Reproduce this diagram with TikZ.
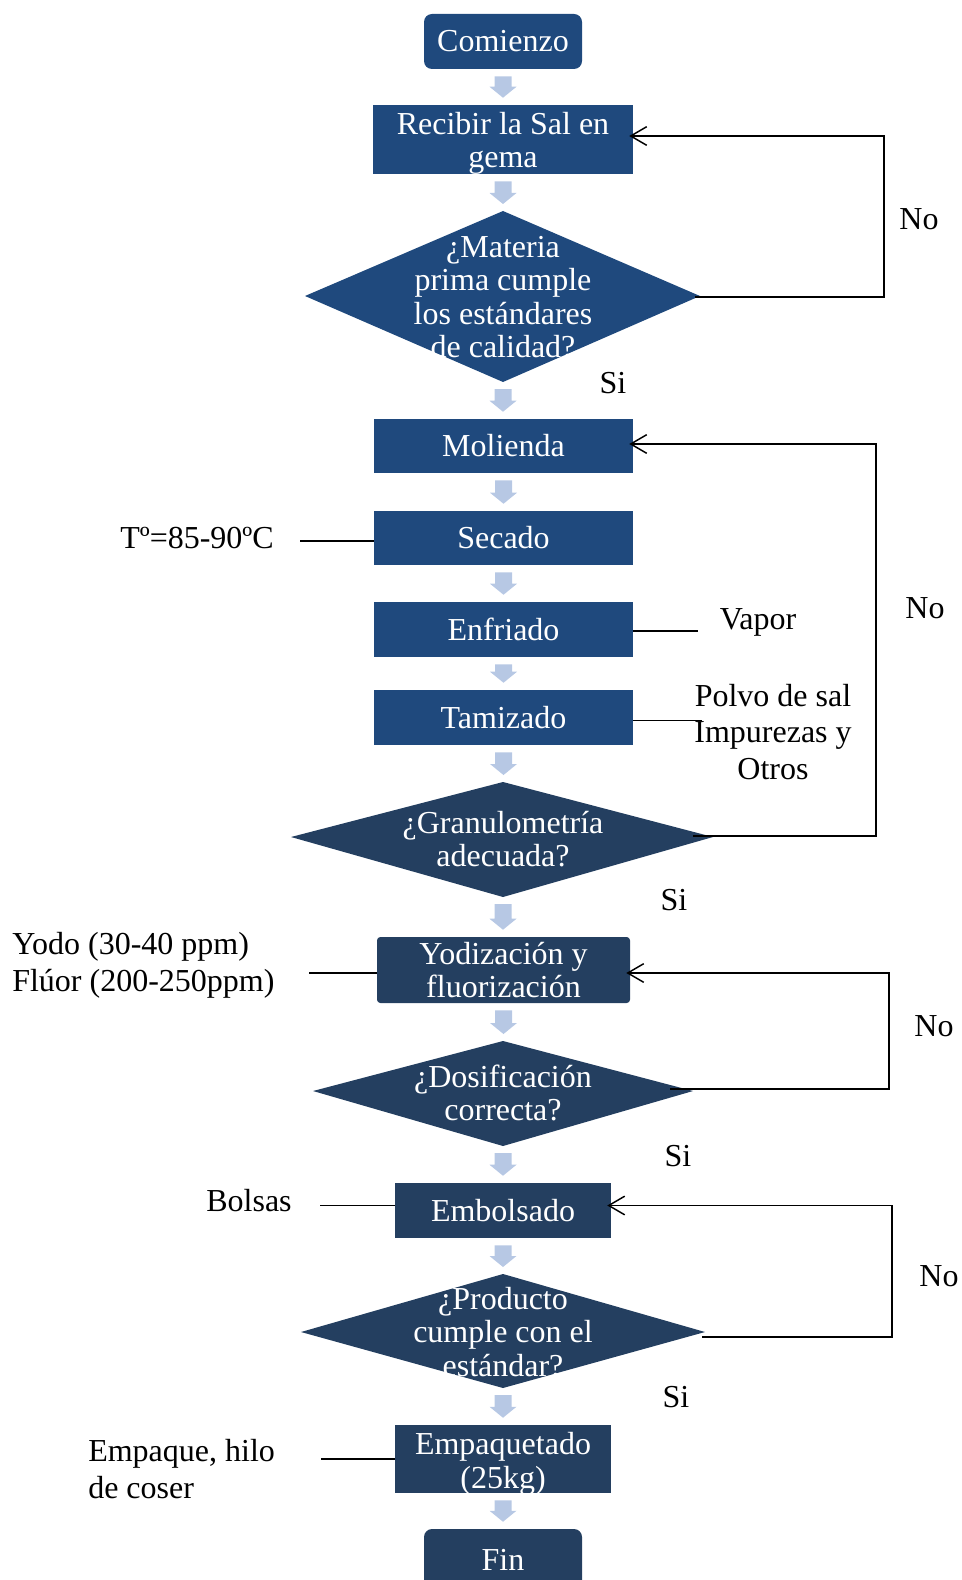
\documentclass[tikz,border=0pt]{standalone}
\usepackage{fontspec}
\setmainfont{Liberation Serif}
\usetikzlibrary{arrows.meta,calc}
\definecolor{bluA}{RGB}{31,73,125}
\definecolor{bluB}{RGB}{36,63,96}
\definecolor{arrowc}{RGB}{183,200,228}
\newcommand\flowarrow[2]{%
  \fill[arrowc] let \p1=($(#1)+(0,7)$), \p2=($(#2)+(0,-7)$) in
    (\x1-6.375pt,\y1) -- (\x1+6.375pt,\y1) -- (\x1+6.375pt,\y2+8.25pt) --
    (\x1+10.125pt,\y2+8.25pt) -- (\x1,\y2) -- (\x1-10.125pt,\y2+8.25pt) --
    (\x1-6.375pt,\y2+8.25pt) -- cycle;}
\tikzset{
  boxA/.style={fill=bluA, text=white, inner sep=0pt, align=center,
    font=\fontsize{24}{25}\selectfont},
  boxB/.style={boxA, fill=bluB},
  dtext/.style={text=white, inner sep=0pt, align=center,
    font=\fontsize{24}{25}\selectfont},
  lbl/.style={text=black, inner sep=0pt, align=center,
    font=\fontsize{24}{27.5}\selectfont},
  lblL/.style={lbl, align=left, anchor=west},
  side/.style={draw=black, line width=1.1pt},
  loopc/.style={draw=black, line width=1.1pt, -{Straight Barb[length=12pt,width=14pt,line width=1.1pt]}}
}
\begin{document}
\begin{tikzpicture}[x=0.75pt,y=-0.75pt]
\useasboundingbox (0,0) rectangle (962,1580);
\clip (0,0) rectangle (962,1580);

% boxes
\node[boxA, minimum width=118.5pt, minimum height=41.25pt, rounded corners=6pt] (start) at (503,41.5) {Comienzo};
\node[boxA, minimum width=195pt, minimum height=51.75pt] (recv) at (503,139.5) {};
\node[dtext] (recvt) at (503,143.5) {Recibir la Sal en\\gema};

% diamond 1
\coordinate (d1t) at (503,211); \coordinate (d1b) at (503,382);
\coordinate (d1l) at (305,296); \coordinate (d1r) at (700,296);
\fill[bluA] (d1t) -- (d1r) -- (d1b) -- (d1l) -- cycle;
\node[dtext] (d1) at (503,297) {¿Materia\\prima cumple\\los estándares\\de calidad?};

\node[boxA, minimum width=194.25pt, minimum height=40.5pt] (mol) at (503.5,446) {Molienda};
\node[boxA, minimum width=194.25pt, minimum height=40.5pt] (sec) at (503.5,538) {Secado};
\node[boxA, minimum width=194.25pt, minimum height=41.25pt] (enf) at (503.5,629.5) {Enfriado};
\node[boxA, minimum width=194.25pt, minimum height=41.25pt] (tam) at (503.5,717.5) {Tamizado};

% diamond 2
\coordinate (d2t) at (503,782); \coordinate (d2b) at (503,897);
\coordinate (d2l) at (291,837); \coordinate (d2r) at (713,837);
\fill[bluB] (d2t) -- (d2r) -- (d2b) -- (d2l) -- cycle;
\node[dtext] (d2) at (503,839) {¿Granulometría\\adecuada?};

\node[boxB, minimum width=189.75pt, minimum height=49.5pt, rounded corners=2.5pt] (yod) at (503.5,970) {Yodización y\\fluorización};

% diamond 3
\coordinate (d3t) at (503,1041); \coordinate (d3b) at (503,1146);
\coordinate (d3l) at (313,1091); \coordinate (d3r) at (693,1091);
\fill[bluB] (d3t) -- (d3r) -- (d3b) -- (d3l) -- cycle;
\node[dtext] (d3) at (503,1093) {¿Dosificación\\correcta?};

\node[boxB, minimum width=162pt, minimum height=41.25pt] (emb) at (503,1210.5) {Embolsado};

% diamond 4
\coordinate (d4t) at (503,1274); \coordinate (d4b) at (503,1388);
\coordinate (d4l) at (301,1332); \coordinate (d4r) at (705,1332);
\fill[bluB] (d4t) -- (d4r) -- (d4b) -- (d4l) -- cycle;
\node[dtext] (d4) at (503,1332) {¿Producto\\cumple con el\\estándar?};

\node[boxB, minimum width=162pt, minimum height=51pt] (emp) at (503,1459) {};
\node[dtext] (empt) at (503,1464) {Empaquetado\\(25kg)};
\node[boxB, minimum width=118.5pt, minimum height=46.5pt, rounded corners=6pt] (fin) at (503,1560) {Fin};

% block arrows
\flowarrow{start.south}{recv.north}
\flowarrow{recv.south}{d1t}
\flowarrow{d1b}{mol.north}
\flowarrow{mol.south}{sec.north}
\flowarrow{sec.south}{enf.north}
\flowarrow{enf.south}{tam.north}
\flowarrow{tam.south}{d2t}
\flowarrow{d2b}{yod.north}
\flowarrow{yod.south}{d3t}
\flowarrow{d3b}{emb.north}
\flowarrow{emb.south}{d4t}
\flowarrow{d4b}{emp.north}
\flowarrow{emp.south}{fin.north}

% loops
\draw[loopc] ($(d1r)+(-5,1)$) -- (884,297) |- ($(recv.east)+(-4,-3.5)$);
\draw[loopc] ($(d2r)+(-20,-1)$) -- (876,836) |- ($(mol.east)+(-4,-2)$);
\draw[loopc] ($(d3r)+(-23,-2)$) -- (889,1089) |- ($(yod.east)+(-4,3)$);
\draw[loopc] ($(d4r)+(-3,5)$) -- (892,1337) |- ($(emb.east)+(-4,-5)$);

\node[lbl] (no1) at (919,219) {No};
\node[lbl] (no2) at (925,608) {No};
\node[lbl] (no3) at (934,1026) {No};
\node[lbl] (no4) at (939,1276) {No};
\node[lbl] (si1) at (613,383) {Si};
\node[lbl] (si2) at (674,900) {Si};
\node[lbl] (si3) at (678,1156) {Si};
\node[lbl] (si4) at (676,1397) {Si};

% side inputs / outputs
\node[lbl] (temp) at (197,538) {Tº=85-90ºC};
\draw[side] ($(sec.west)+(0,3)$) -- ++(-74,0);
\node[lbl] (vap) at (758,622) {Vapor};
\draw[side] ($(enf.east)+(0,1.5)$) -- ++(65,0);
\node[lbl] (polvo) at (773,732) {Polvo de sal\\Impurezas y\\Otros};
\draw[side] ($(tam.east)+(0,3)$) -- ++(69,0);
\node[lblL] (yodo) at (12,965.5) {Yodo (30-40 ppm)\\Flúor (200-250ppm)};
\draw[side] ($(yod.west)+(0,3)$) -- ++(-68,0);
\node[lbl] (bols) at (249,1201) {Bolsas};
\draw[side] ($(emb.west)+(0,-5)$) -- ++(-75,0);
\node[lblL] (empq) at (88,1469) {Empaque, hilo\\de coser};
\draw[side] (emp.west) -- ++(-74,0);
\end{tikzpicture}
\end{document}
